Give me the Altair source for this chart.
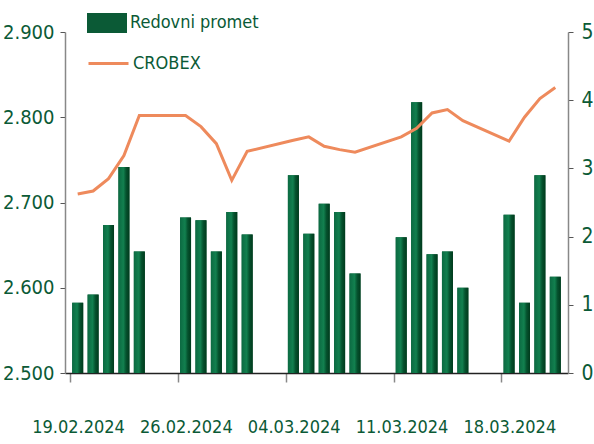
import altair as alt
import pandas as pd

dates = [
    "2024-02-19", "2024-02-20", "2024-02-21", "2024-02-22", "2024-02-23",
    "2024-02-26", "2024-02-27", "2024-02-28", "2024-02-29", "2024-03-01",
    "2024-03-04", "2024-03-05", "2024-03-06", "2024-03-07", "2024-03-08",
    "2024-03-11", "2024-03-12", "2024-03-13", "2024-03-14", "2024-03-15",
    "2024-03-18", "2024-03-19", "2024-03-20", "2024-03-21",
]
crobex = [
    2710, 2713.5, 2728, 2755, 2802,
    2802, 2789, 2769, 2726, 2760,
    2773, 2777, 2766, 2762, 2759,
    2777, 2787, 2805, 2809, 2796,
    2772, 2800, 2822, 2835,
]
promet = [
    1.03, 1.15, 2.17, 3.02, 1.78,
    2.28, 2.24, 1.78, 2.36, 2.03,
    2.90, 2.04, 2.48, 2.36, 1.46,
    1.99, 3.97, 1.74, 1.78, 1.25,
    2.32, 1.03, 2.90, 1.41,
]
tick_dates = [(2024, 2, 19), (2024, 2, 26), (2024, 3, 4), (2024, 3, 11), (2024, 3, 18)]

GREEN = "#0b5a36"
ORANGE = "#ee8a5c"
FONT = "'DejaVu Sans Condensed', Roboto, sans-serif"

df = pd.DataFrame({
    "date": [d + "T12:00:00Z" for d in dates],
    "crobex": crobex,
    "promet": promet,
    "s1": "Redovni promet",
    "s2": "CROBEX",
})

x_enc = alt.X(
    "date:T",
    scale=alt.Scale(
        type="utc",
        domain=[alt.DateTime(year=2024, month=2, date=19, utc=True),
                alt.DateTime(year=2024, month=3, date=22, utc=True)],
    ),
    axis=alt.Axis(
        title=None,
        values=[alt.DateTime(year=y, month=m, date=d, utc=True) for (y, m, d) in tick_dates],
        format="%d.%m.%Y",
        grid=False,
        domainColor="#222222",
        domainWidth=1.5,
        tickColor="#888888",
        tickSize=9,
        tickWidth=1.5,
        labelOffset=8,
        labelPadding=36,
        labelFont=FONT,
        labelFontSize=18,
        labelColor=GREEN,
    ),
)

bar_y = alt.Y(
    "promet:Q",
    scale=alt.Scale(domain=[0, 5], nice=False),
    axis=alt.Axis(
        orient="right",
        title=None,
        values=[0, 1, 2, 3, 4, 5],
        format="d",
        grid=False,
        domainColor="#888888",
        domainWidth=1.5,
        tickColor="#555555",
        tickSize=5,
        labelPadding=8,
        labelFont=FONT,
        labelFontSize=21,
        labelColor=GREEN,
    ),
)

bars_legend = alt.Chart(df).mark_bar(size=11).encode(
    x=x_enc,
    y=bar_y,
    fill=alt.Fill(
        "s1:N",
        scale=alt.Scale(domain=["Redovni promet"], range=[GREEN]),
        legend=alt.Legend(
            orient="none", legendX=22, legendY=-29, title=None, padding=0,
            symbolType="M-1,-0.5H1V0.5H-1Z", symbolSize=1600,
            symbolStrokeWidth=0, symbolOpacity=1,
            labelOffset=3, labelFont=FONT, labelFontSize=18, labelColor=GREEN,
        ),
    ),
)

grad = alt.Gradient(
    gradient="linear",
    stops=[
        alt.GradientStop(color="#0c6a42", offset=0),
        alt.GradientStop(color="#12804f", offset=0.45),
        alt.GradientStop(color="#05522e", offset=0.7),
        alt.GradientStop(color="#003a1c", offset=1),
    ],
    x1=0, x2=1, y1=0, y2=0,
)

bars_grad = alt.Chart(df).mark_bar(size=11, color=grad).encode(
    x=alt.X("date:T"),
    y=alt.Y("promet:Q"),
)

bars = alt.layer(bars_legend, bars_grad)

line = alt.Chart(df).mark_line(strokeWidth=3).encode(
    x=alt.X("date:T"),
    y=alt.Y(
        "crobex:Q",
        scale=alt.Scale(domain=[2500, 2900], nice=False, zero=False),
        axis=alt.Axis(
            orient="left",
            title=None,
            values=[2500, 2600, 2700, 2800, 2900],
            labelExpr="replace(format(datum.value, ','), ',', '.')",
            grid=False,
            domainColor="#888888",
            domainWidth=1.5,
            tickColor="#555555",
            tickSize=5,
            labelPadding=6,
            labelFont=FONT,
            labelFontSize=20,
            labelColor=GREEN,
        ),
    ),
    stroke=alt.Stroke(
        "s2:N",
        scale=alt.Scale(domain=["CROBEX"], range=[ORANGE]),
        legend=alt.Legend(
            orient="none", legendX=22, legendY=10, title=None, padding=0,
            symbolType="stroke", symbolSize=1600, symbolStrokeWidth=3,
            labelOffset=3, labelFont=FONT, labelFontSize=18, labelColor=GREEN,
        ),
    ),
)

chart = alt.layer(bars, line).resolve_scale(
    y="independent", fill="independent", stroke="independent"
).properties(
    width=503,
    height=341,
    padding={"left": 65, "top": 32, "right": 26, "bottom": 71},
    autosize=alt.AutoSizeParams(type="none"),
).configure_view(stroke=None)

chart.save("out.html", embed_options={"renderer": "svg", "actions": False})
